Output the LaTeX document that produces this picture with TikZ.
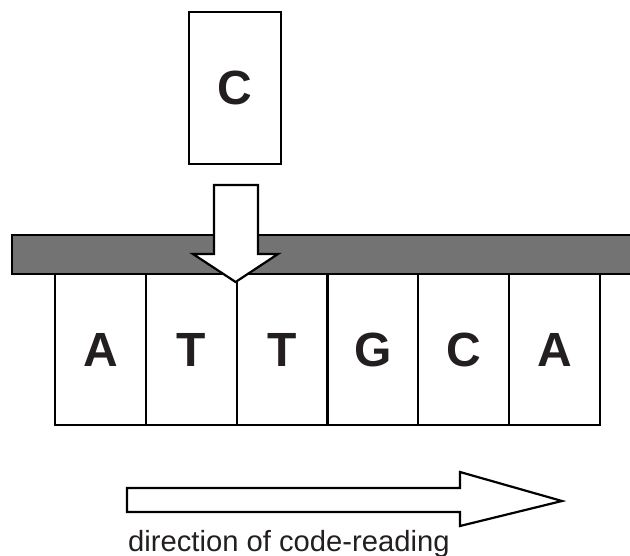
\documentclass[tikz,border=0pt]{standalone}
\usepackage{fontspec}
\setmainfont{Liberation Sans}
\definecolor{bargray}{RGB}{115,115,115}
\definecolor{ink}{RGB}{35,31,32}
\tikzset{
  base/.style={draw=black, line width=2.2pt},
  cell/.style={base, fill=white, minimum width=90.8pt, minimum height=151pt, inner sep=0pt, anchor=north west,
    font=\fontsize{48}{48}\selectfont\bfseries, text=ink},
  blockarrow/.style={base, fill=white, line join=miter},
  caption/.style={font=\fontsize{29.2}{30}\selectfont, text=ink, anchor=base west, inner sep=0pt}
}
\begin{document}
\begin{tikzpicture}[x=1pt,y=-1pt]
\useasboundingbox (0,0) rectangle (630,556);
% nucleotide cells
\node[cell] (c1) at (54,273) {A};
\node[cell] (c2) at (144.8,273) {T};
\node[cell] (c3) at (235.6,273) {T};
\node[cell] (c4) at (326.4,273) {G};
\node[cell] (c5) at (417.2,273) {C};
\node[cell] (c6) at (508,273) {A};
% backbone bar
\node[base, fill=bargray, anchor=north west, minimum width=640pt, minimum height=39pt, inner sep=0pt] (bar) at (11,234) {};
% incoming nucleotide
\node[cell, minimum height=152pt, minimum width=92pt] (inc) at (188,11) {C};
% insertion arrow
\coordinate (tip) at (c3.north west |- 0,282);
\draw[blockarrow] (214,185) -- (258,185) -- (258,254) -- (278,254) -- (tip) -- (193,254) -- (214,254) -- cycle;
% direction arrow
\draw[blockarrow] (127,488) -- (460,488) -- (460,472) -- (562,501) -- (460,526) -- (460,512) -- (127,512) -- cycle;
\node[caption] (cap) at (128,551) {direction of code-reading};
\end{tikzpicture}
\end{document}
